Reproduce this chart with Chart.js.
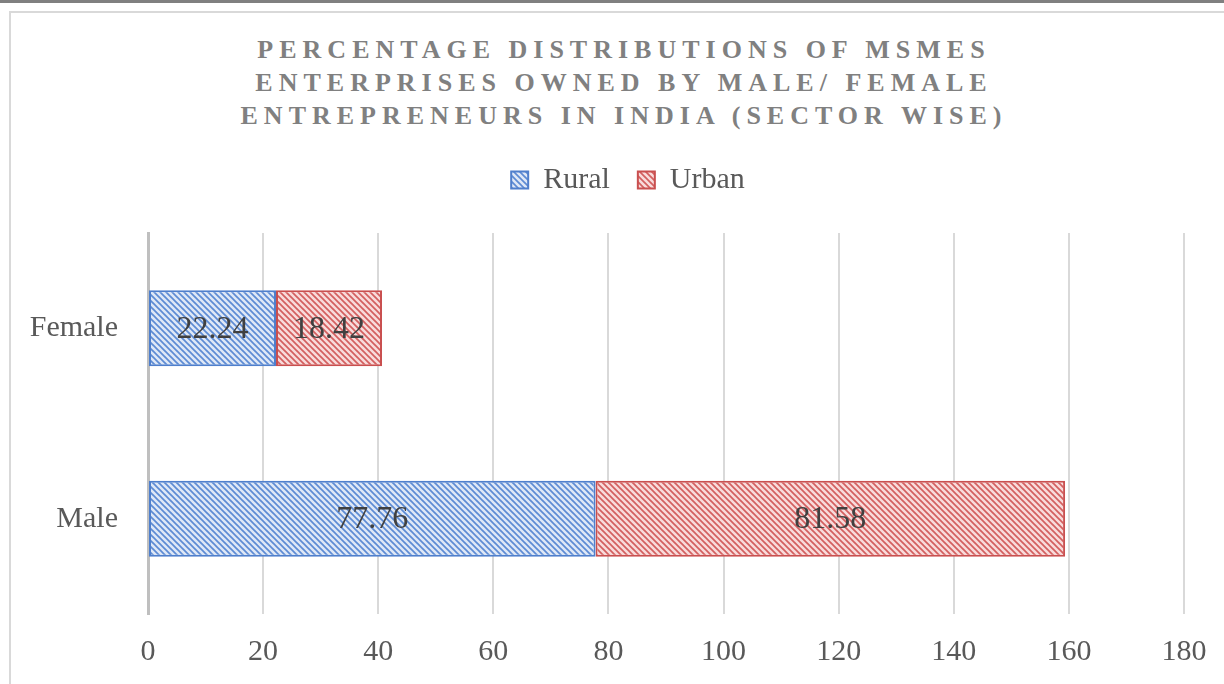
<!DOCTYPE html>
<html>
<head>
<meta charset="utf-8">
<script src="https://cdn.jsdelivr.net/npm/chart.js@4/dist/chart.umd.min.js"></script>
<style>
  html, body { margin: 0; padding: 0; background: #ffffff; }
  body { width: 1224px; height: 684px; position: relative; overflow: hidden; }
  #topbar { position: absolute; left: 0; top: 0; width: 1224px; height: 3px; background: #808080; }
  #frame { position: absolute; left: 9px; top: 11px; width: 1260px; height: 720px; border: 2px solid #d9d9d9; box-sizing: border-box; }
  #title { position: absolute; left: 0; top: 33px; width: 1248px; text-align: center;
           font-family: "Liberation Serif", "Times New Roman", serif; font-weight: bold; font-size: 26px;
           line-height: 33px; letter-spacing: 6px; color: #808080; }
  #wrap { position: absolute; left: 0; top: 0; width: 1224px; height: 684px; }
</style>
</head>
<body>
<div id="topbar"></div>
<div id="frame"></div>
<div id="title">PERCENTAGE DISTRIBUTIONS OF MSMES<br>ENTERPRISES OWNED BY MALE/ FEMALE<br>ENTREPRENEURS IN INDIA (SECTOR WISE)</div>
<div id="wrap"><canvas id="c" width="1224" height="684"></canvas></div>
<script>
const categories = ["Female", "Male"];
const seriesNames = ["Rural", "Urban"];
const ruralValues = [22.24, 77.76];
const urbanValues = [18.42, 81.58];
const xTicks = [0, 20, 40, 60, 80, 100, 120, 140, 160, 180];

function makePattern(bg, line) {
  const s = 6;
  const t = document.createElement('canvas');
  t.width = s; t.height = s;
  const g = t.getContext('2d');
  g.fillStyle = bg;
  g.fillRect(0, 0, s, s);
  g.strokeStyle = line;
  g.lineWidth = 1.7;
  for (let k = -1; k <= 1; k++) {
    g.beginPath();
    g.moveTo(k * s - 1, -1);
    g.lineTo(k * s + s + 1, s + 1);
    g.stroke();
  }
  const ctx = document.getElementById('c').getContext('2d');
  return ctx.createPattern(t, 'repeat');
}

const bluePattern = makePattern('#dfe8f6', '#5d8bd4');
const redPattern = makePattern('#f8dbdb', '#d35f5f');

const FONT = '"Liberation Serif", "Times New Roman", serif';

const valueLabels = {
  id: 'valueLabels',
  afterDatasetsDraw(chart) {
    const ctx = chart.ctx;
    ctx.save();
    ctx.font = '32px ' + FONT;
    ctx.fillStyle = '#404040';
    ctx.textAlign = 'center';
    ctx.textBaseline = 'middle';
    chart.data.datasets.forEach((ds, di) => {
      const meta = chart.getDatasetMeta(di);
      meta.data.forEach((el, i) => {
        const cx = (el.x + el.base) / 2;
        ctx.fillText(ds.data[i].toFixed(2), cx, el.y + 1);
      });
    });
    ctx.restore();
  }
};

const legendShift = {
  id: 'legendShift',
  afterLayout(chart) {
    if (chart.legend) { chart.legend.left += 36; chart.legend.right += 36; }
  }
};

new Chart(document.getElementById('c'), {
  type: 'bar',
  data: {
    labels: categories,
    datasets: [
      { label: seriesNames[0], data: ruralValues, backgroundColor: bluePattern, borderColor: '#4f7fcc', borderWidth: 2, borderSkipped: false },
      { label: seriesNames[1], data: urbanValues, backgroundColor: redPattern, borderColor: '#c94f4f', borderWidth: 2, borderSkipped: false }
    ]
  },
  options: {
    indexAxis: 'y',
    responsive: false,
    animation: false,
    devicePixelRatio: 1,
    datasets: { bar: { barPercentage: 0.4, categoryPercentage: 1.0 } },
    layout: { padding: { left: 0, right: 40, top: 137, bottom: 0 } },
    scales: {
      x: {
        stacked: true,
        min: 0, max: 180,
        afterBuildTicks(scale) { scale.ticks = xTicks.map(v => ({ value: v })); },
        afterFit(scale) { scale.height = 70; scale.paddingRight = 0; scale.paddingLeft = 0; },
        grid: { color: '#d9d9d9', lineWidth: 2, drawTicks: false },
        border: { display: false },
        ticks: { color: '#595959', font: { family: FONT, size: 30 }, padding: 20, maxRotation: 0 }
      },
      y: {
        stacked: true,
        afterFit(scale) { scale.width = 148; },
        grid: { display: false, drawTicks: false },
        border: { display: true, color: '#bfbfbf', width: 3 },
        ticks: { color: '#595959', font: { family: FONT, size: 30 }, padding: 30 }
      }
    },
    plugins: {
      title: { display: false },
      subtitle: { display: true, text: '', position: 'top', weight: 500, font: { size: 10, lineHeight: 1 }, padding: { top: 8, bottom: 10 } },
      tooltip: { enabled: false },
      legend: {
        position: 'top',
        labels: {
          color: '#595959',
          font: { family: FONT, size: 30 },
          boxWidth: 17, boxHeight: 17,
          padding: 28
        }
      }
    }
  },
  plugins: [valueLabels, legendShift]
});
</script>
</body>
</html>
